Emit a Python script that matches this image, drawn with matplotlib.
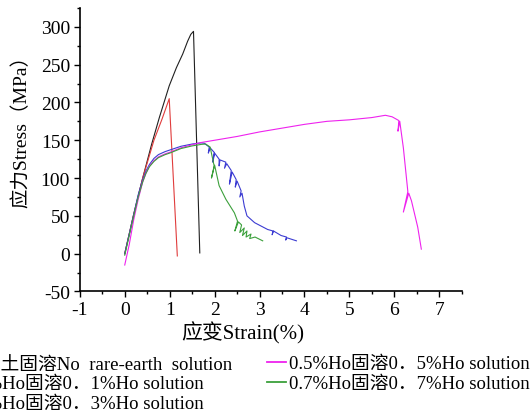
import matplotlib
matplotlib.use("Agg")
import matplotlib.pyplot as plt
from matplotlib.ticker import MultipleLocator

# stress-strain curves
black_x = [0, 0.2, 0.4, 0.6, 0.77, 0.99, 1.15, 1.29, 1.40, 1.47, 1.53, 1.67]
black_y = [0, 52, 100, 145, 180, 222, 246, 264, 281, 290, 294, 1]

red_x = [0, 0.2, 0.4, 0.65, 0.83, 0.99, 1.17]
red_y = [0, 52, 100, 150, 178, 205, -3]

blue_x = [0, 0.1, 0.2, 0.3, 0.4, 0.47, 0.55, 0.65, 0.75, 0.9, 1.0, 1.25, 1.5, 1.7, 1.77,
          1.88, 1.86, 1.9, 1.99, 1.96, 2.0, 2.1, 2.1, 2.12, 2.25, 2.22, 2.27, 2.37, 2.33,
          2.39, 2.48, 2.46, 2.5, 2.59, 2.56, 2.61, 2.66, 2.72, 2.89, 3.18, 3.3, 3.28, 3.31,
          3.48, 3.6, 3.58, 3.61, 3.82]
blue_y = [0, 26, 52, 78, 98, 109, 118, 126, 131, 135, 137, 142, 145, 146.5, 146,
          141, 133, 140, 134, 121, 133, 125, 116, 124, 121, 113, 119, 110, 92,
          108, 98, 88, 96, 83, 75, 80, 63, 50, 41, 32, 30, 25, 30,
          24, 22, 18, 21, 17]

magenta_x = [0, 0.1, 0.2, 0.3, 0.4, 0.47, 0.55, 0.65, 0.75, 0.9, 1.0, 1.25, 1.5, 1.7,
             2.0, 2.5, 3.0, 3.5, 4.0, 4.5, 5.0, 5.5, 5.8, 5.95, 6.1, 6.08, 6.12, 6.2,
             6.3, 6.2, 6.32, 6.38, 6.44, 6.46, 6.52, 6.6]
magenta_y = [-15, 12, 45, 72, 95, 106, 116, 123, 128, 132, 134, 140, 144, 147,
             150, 155, 161, 166, 171, 175, 177, 180, 183, 181, 176, 162, 175, 140,
             82, 55, 80, 70, 55, 50, 35, 6]

green_x = [0, 0.1, 0.2, 0.3, 0.4, 0.47, 0.55, 0.65, 0.75, 0.9, 1.0, 1.25, 1.5, 1.7, 1.8,
           1.9, 1.99, 1.93, 2.0, 2.1, 2.25, 2.44, 2.51, 2.45, 2.53, 2.6, 2.56, 2.66, 2.62,
           2.72, 2.7, 2.81, 2.78, 2.9, 3.07]
green_y = [-2, 24, 50, 75, 95, 106, 115, 122, 127, 131, 133, 139, 142.5, 144.5, 145,
           141, 116, 100, 117, 90, 72, 54, 43, 30, 42, 38, 28, 34, 24,
           30, 22, 26, 20, 22, 17]

labels = ["无稀土固溶No  rare-earth  solution",
          "0.1%Ho固溶0．1%Ho solution",
          "0.3%Ho固溶0．3%Ho solution",
          "0.5%Ho固溶0．5%Ho solution",
          "0.7%Ho固溶0．7%Ho solution"]
colors = ["#202020", "#e03c3c", "#3c3cd2", "#ee22ee", "#3ca03c"]

plt.rcParams['font.family'] = ['Liberation Serif', 'Noto Sans CJK SC']
plt.rcParams['axes.unicode_minus'] = False

fig = plt.figure(figsize=(5.32, 4.14), dpi=100)
ax = fig.add_axes([0.150, 0.2935, 0.718, 0.685])

series = [(black_x, black_y), (red_x, red_y), (blue_x, blue_y),
          (magenta_x, magenta_y), (green_x, green_y)]
lines = []
for (xs, ys), c, lab in zip(series, colors, labels):
    ln, = ax.plot(xs, ys, color=c, lw=0.8, label=lab)
    lines.append(ln)

ax.set_xlim(-1, 7.5)
ax.set_ylim(-50, 325)
ax.xaxis.set_major_locator(MultipleLocator(1))
ax.xaxis.set_minor_locator(MultipleLocator(0.5))
ax.yaxis.set_major_locator(MultipleLocator(50))
ax.yaxis.set_minor_locator(MultipleLocator(25))
ax.set_xticks(range(-1, 8))
ax.tick_params(which='major', direction='out', length=4, width=1, labelsize=14, pad=3)
ax.tick_params(which='minor', direction='out', length=2.5, width=1)
ax.spines['top'].set_visible(False)
ax.spines['right'].set_visible(False)
ax.spines['left'].set_linewidth(1.2)
ax.spines['bottom'].set_linewidth(1.2)

ax.set_xlabel("应变Strain(%)", fontsize=15)
ax.xaxis.set_label_coords(0.427, -0.105)
ax.set_ylabel("应力Stress（MPa）", fontsize=14)
ax.yaxis.set_label_coords(-0.13, 0.584)

# two legend columns, the left one runs off the edge like the reference
leg_kw = dict(loc='upper left', frameon=False, fontsize=13.5, handlelength=1.05,
              handletextpad=0.15, borderpad=0, borderaxespad=0, labelspacing=0.15)
leg1 = fig.legend(handles=lines[:3], bbox_to_anchor=(-0.111, 0.140), **leg_kw)
leg2 = fig.legend(handles=lines[3:], bbox_to_anchor=(0.5013, 0.140), **leg_kw)
for leg in (leg1, leg2):
    for h in leg.legend_handles:
        h.set_linewidth(1.3)

fig.savefig("out.png", dpi=100)
